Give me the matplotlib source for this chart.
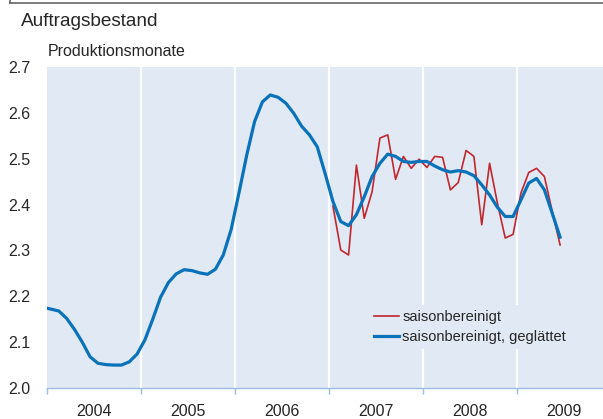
import numpy as np
import matplotlib.pyplot as plt
from matplotlib.lines import Line2D

plt.rcParams['font.family'] = ['Liberation Sans', 'DejaVu Sans']

# monthly values, Dec 2003 .. Jun 2009 (smoothed series)
smooth = [2.176,
          2.172, 2.168, 2.152, 2.128, 2.100, 2.068, 2.054, 2.051, 2.050, 2.050, 2.057, 2.074,
          2.105, 2.150, 2.198, 2.230, 2.249, 2.258, 2.256, 2.251, 2.248, 2.259, 2.290, 2.345,
          2.425, 2.508, 2.581, 2.624, 2.639, 2.634, 2.621, 2.599, 2.571, 2.552, 2.526, 2.468,
          2.407, 2.363, 2.354, 2.378, 2.417, 2.461, 2.490, 2.510, 2.505, 2.494, 2.492, 2.494,
          2.494, 2.484, 2.476, 2.471, 2.474, 2.471, 2.463, 2.443, 2.421, 2.394, 2.374, 2.374,
          2.410, 2.447, 2.457, 2.432, 2.381, 2.329]

# monthly values, Jan 2007 .. Jun 2009 (seasonally adjusted)
raw = [2.397, 2.301, 2.290, 2.486, 2.370, 2.428, 2.545, 2.552, 2.455, 2.505, 2.479, 2.499,
       2.481, 2.505, 2.503, 2.432, 2.448, 2.518, 2.505, 2.356, 2.490, 2.403, 2.327, 2.335,
       2.425, 2.470, 2.479, 2.461, 2.385, 2.312]

years = [2004, 2005, 2006, 2007, 2008, 2009]
yticks = [2.0, 2.1, 2.2, 2.3, 2.4, 2.5, 2.6, 2.7]

x_smooth = 2003 + 11.5 / 12 + np.arange(len(smooth)) / 12
x_raw = 2007 + 0.5 / 12 + np.arange(len(raw)) / 12

bg = '#e1e9f4'
red = '#c1272d'
blue = '#0a72ba'
axis_col = '#9dbbe0'
txt = '#262626'

fig = plt.figure(figsize=(6.03, 4.19), dpi=100)
ax = fig.add_axes([47 / 603, 31 / 419, 556 / 603, 321 / 419])
ax.set_facecolor(bg)

for y in years[1:]:
    ax.axvline(y, color='white', lw=1.6, zorder=1)

ax.plot(x_raw, raw, color=red, lw=1.2, zorder=3)
ax.plot(x_smooth, smooth, color=blue, lw=2.3, zorder=4, solid_joinstyle='round')

ax.set_xlim(2004, 2004 + 556 / 94)
ax.set_ylim(2.0, 2.7)

for s in ['top', 'right', 'left']:
    ax.spines[s].set_visible(False)
ax.spines['bottom'].set_color(axis_col)
ax.spines['bottom'].set_linewidth(1.0)

ax.set_xticks(years)
ax.set_xticklabels([])
ax.set_xticks([y + 0.5 for y in years], minor=True)
ax.set_xticklabels([str(y) for y in years], minor=True)
ax.tick_params(axis='x', which='major', length=4, color=axis_col, width=1)
ax.tick_params(axis='x', which='minor', length=0, pad=11.5, labelsize=11.5, labelcolor=txt)

ax.set_yticks(yticks)
ax.set_yticklabels(['%.1f' % v for v in yticks])
ax.tick_params(axis='y', length=0, pad=12, labelsize=11.5, labelcolor=txt)

handles = [Line2D([], [], color=red, lw=1.2), Line2D([], [], color=blue, lw=2.3)]
leg = ax.legend(handles, ['saisonbereinigt', 'saisonbereinigt, geglättet'],
                loc='lower left', bbox_to_anchor=(0.568, 0.10), frameon=True,
                fontsize=10.5, handlelength=1.7, handletextpad=0.2, labelspacing=0.45,
                borderpad=0.3, fancybox=False)
leg.get_frame().set_facecolor(bg)
leg.get_frame().set_edgecolor('none')
leg.get_frame().set_alpha(1)
for t in leg.get_texts():
    t.set_color(txt)

fig.text(21 / 603, 1 - 22 / 419, 'Auftragsbestand', fontsize=13.7, color=txt, va='center')
fig.text(48 / 603, 1 - 52 / 419, 'Produktionsmonate', fontsize=11.5, color=txt, va='center')

# frame line at the top
fig.add_artist(Line2D([10 / 603, 1], [1 - 3 / 419, 1 - 3 / 419], color='#666666', lw=1.2))
fig.add_artist(Line2D([10 / 603, 10 / 603], [1 - 3 / 419, 1], color='#666666', lw=1.2))

fig.savefig('out.png', dpi=100)
